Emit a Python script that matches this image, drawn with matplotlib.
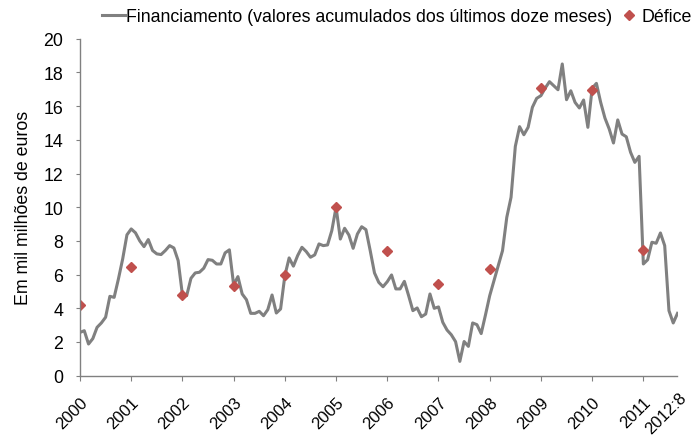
import matplotlib
matplotlib.use("Agg")
import matplotlib.pyplot as plt
import matplotlib.transforms as mtransforms
import numpy as np

plt.rcParams['font.family'] = ['Liberation Sans', 'DejaVu Sans']

# Monthly 12-month cumulative financing, Dec 2000 .. Aug 2012
financiamento = [
    2.57, 2.67, 1.88, 2.20, 2.87, 3.13, 3.47, 4.71, 4.65, 5.74, 6.93, 8.36,
    8.71, 8.48, 8.00, 7.66, 8.08, 7.43, 7.23, 7.19, 7.43, 7.72, 7.58, 6.83,
    4.79, 4.75, 5.78, 6.10, 6.14, 6.38, 6.89, 6.85, 6.63, 6.63, 7.29, 7.47,
    5.39, 5.88, 4.85, 4.51, 3.70, 3.70, 3.82, 3.56, 3.92, 4.79, 3.72, 3.96,
    5.94, 6.99, 6.50, 7.13, 7.62, 7.37, 7.03, 7.17, 7.82, 7.72, 7.76, 8.61,
    10.00, 8.11, 8.75, 8.35, 7.56, 8.41, 8.84, 8.67, 7.42, 6.10, 5.54, 5.28,
    5.58, 5.98, 5.15, 5.15, 5.60, 4.75, 3.86, 4.02, 3.50, 3.66, 4.85, 4.00,
    4.08, 3.17, 2.71, 2.43, 2.02, 0.85, 2.03, 1.74, 3.13, 3.03, 2.50, 3.60,
    4.75, 5.64, 6.53, 7.42, 9.40, 10.59, 13.61, 14.78, 14.30, 14.74, 15.93, 16.46,
    16.62, 17.07, 17.45, 17.21, 16.97, 18.50, 16.38, 16.91, 16.22, 15.89, 16.36, 14.74,
    17.06, 17.35, 16.22, 15.29, 14.64, 13.81, 15.18, 14.34, 14.18, 13.26, 12.66, 13.02,
    6.63, 6.88, 7.92, 7.86, 8.47, 7.72, 3.86, 3.13, 3.70,
]
anos = ['2000', '2001', '2002', '2003', '2004', '2005', '2006', '2007',
        '2008', '2009', '2010', '2011']
defice = [4.20, 6.44, 4.80, 5.35, 6.00, 10.00, 7.42, 5.42, 6.33, 17.10, 16.97, 7.48]
ultimo_rotulo = '2012:8'

x = np.arange(len(financiamento))
x_def = np.arange(len(anos)) * 12

FS = 12.8
fig = plt.figure(figsize=(6.94, 4.39), dpi=100)
ax = fig.add_axes([80/694, 62.3/439, (677.5-80)/694, (376.7-39.7)/439])

gray = '#808080'
red = '#C0504D'
ln, = ax.plot(x, financiamento, color=gray, lw=2.2, solid_joinstyle='round',
              label='Financiamento (valores acumulados dos últimos doze meses)')
mk, = ax.plot(x_def, defice, linestyle='none', marker='D', color=red, ms=5,
              label='Défice')

ax.set_xlim(0, len(financiamento) - 1)
ax.set_ylim(0, 20)
ax.set_yticks(np.arange(0, 21, 2))
ax.tick_params(axis='y', labelsize=FS, length=2.9, color=gray, direction='out', pad=9)
ticks = list(x_def) + [len(financiamento) - 1]
ax.set_xticks(ticks)
ax.set_xticklabels(anos + [ultimo_rotulo], rotation=45, ha='right',
                   rotation_mode='anchor', fontsize=12)
ax.tick_params(axis='x', length=3.6, color=gray, direction='out', pad=10)
ax.xaxis.get_major_ticks()[-1].tick1line.set_visible(False)
last = ax.get_xticklabels()[-1]
last.set_transform(last.get_transform() +
                   mtransforms.ScaledTranslation(1/100, 5/100, fig.dpi_scale_trans))
for s in ['top', 'right']:
    ax.spines[s].set_visible(False)
for s in ['left', 'bottom']:
    ax.spines[s].set_color(gray)
    ax.spines[s].set_linewidth(1)

ax.set_ylabel('Em mil milhões de euros', fontsize=FS, labelpad=8)

fig.legend(handles=[ln, mk], loc='center', bbox_to_anchor=(396.5/694, 1 - 17.5/439),
           ncol=2, frameon=False, fontsize=FS, handlelength=1.3,
           handletextpad=0.05, columnspacing=0.3, borderaxespad=0, borderpad=0)

fig.savefig('out.png', dpi=100)
